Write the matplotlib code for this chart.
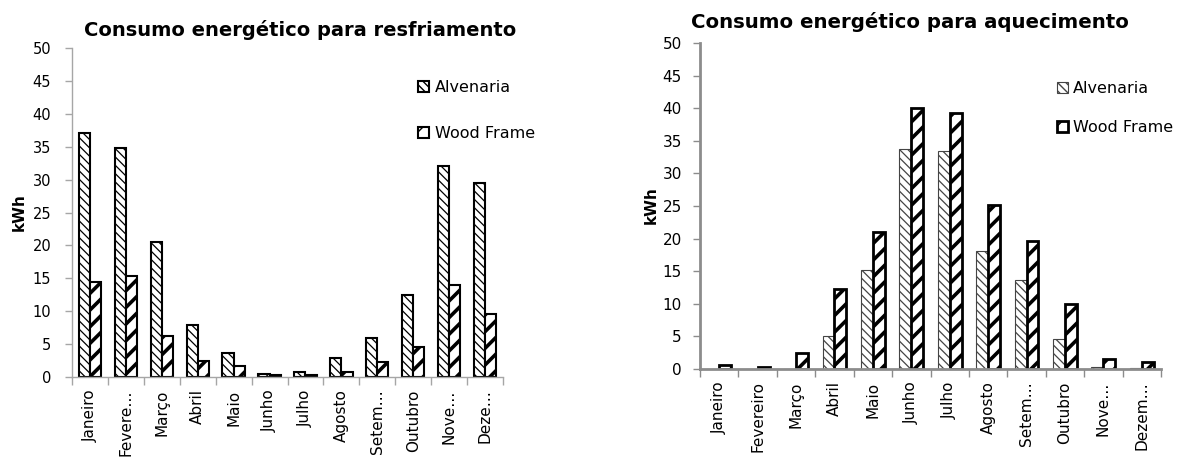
import matplotlib
matplotlib.use('Agg')
import matplotlib.pyplot as plt
import numpy as np

# meses e consumo mensal (kWh)
rotulos_resf = ['Janeiro', 'Fevere…', 'Março', 'Abril', 'Maio', 'Junho', 'Julho',
                'Agosto', 'Setem…', 'Outubro', 'Nove…', 'Deze…']
rotulos_aquec = ['Janeiro', 'Fevereiro', 'Março', 'Abril', 'Maio', 'Junho', 'Julho',
                 'Agosto', 'Setem…', 'Outubro', 'Nove…', 'Dezem…']

resf_alvenaria = [37.1, 34.8, 20.5, 7.9, 3.7, 0.4, 0.75, 2.9, 6.0, 12.5, 32.0, 29.5]
resf_wood = [14.4, 15.4, 6.2, 2.5, 1.6, 0.25, 0.25, 0.75, 2.3, 4.5, 14.0, 9.5]

aquec_alvenaria = [0.0, 0.0, 0.0, 5.05, 15.2, 33.8, 33.5, 18.1, 13.7, 4.6, 0.25, 0.2]
aquec_wood = [0.6, 0.3, 2.5, 12.2, 21.0, 40.0, 39.3, 25.1, 19.6, 10.0, 1.5, 1.1]

W, H = 1181, 459
fig = plt.figure(figsize=(W / 100, H / 100), dpi=100)
plt.rcParams['font.family'] = 'DejaVu Sans'


def box(x0, y0, x1, y1):
    # pixel box (top-left origin) -> figure fraction
    return [x0 / W, 1 - y1 / H, (x1 - x0) / W, (y1 - y0) / H]


def barras(ax, alv, wood, rot, alv_edge, alv_lw, wood_lw, spine_c, spine_lw,
           ypad, fs):
    x = np.arange(len(rot))
    w = 0.31
    with plt.rc_context({'hatch.linewidth': 0.9, 'hatch.color': 'black'}):
        b1 = ax.bar(x - w / 2, alv, w, color='white', edgecolor=alv_edge,
                    linewidth=alv_lw, hatch='\\\\\\\\', label='Alvenaria')
    with plt.rc_context({'hatch.linewidth': 2.6, 'hatch.color': 'black'}):
        b2 = ax.bar(x + w / 2, wood, w, color='white', edgecolor='black',
                    linewidth=wood_lw, hatch='//', label='Wood Frame')
    for p in b1:
        if hasattr(p, 'set_hatch_linewidth'):
            p.set_hatch_linewidth(0.9)
    for p in b2:
        if hasattr(p, 'set_hatch_linewidth'):
            p.set_hatch_linewidth(2.6)

    ax.set_xlim(-0.5, len(rot) - 0.5)
    ax.set_ylim(0, 50)
    ax.set_yticks(range(0, 51, 5))
    ax.set_xticks(x)
    ax.set_xticklabels(rot, rotation=90, fontsize=11)
    ax.set_xticks(np.arange(-0.5, len(rot)), minor=True)
    ax.tick_params(axis='x', which='major', length=0, pad=9)
    ax.tick_params(axis='x', which='minor', length=6, width=1, color=spine_c)
    ax.tick_params(axis='y', length=5, width=1, color=spine_c, labelsize=fs, pad=ypad)
    for s in ['top', 'right']:
        ax.spines[s].set_visible(False)
    for s in ['left', 'bottom']:
        ax.spines[s].set_color(spine_c)
        ax.spines[s].set_linewidth(spine_lw)
    return b1, b2


# resfriamento
ax1 = fig.add_axes(box(72, 48, 503, 377))
h1 = barras(ax1, resf_alvenaria, resf_wood, rotulos_resf, 'black', 1.5, 1.5,
            '#a6a6a6', 1.0, 10, 10.5)
fig.text(300 / W, 1 - 30 / H, 'Consumo energético para resfriamento',
         ha='center', va='center', fontsize=14, fontweight='bold')
fig.text(19 / W, 1 - 212 / H, 'kWh', rotation=90, ha='center', va='center',
         fontsize=11, fontweight='bold')
ax1.legend(handles=list(h1), loc='upper left', bbox_to_anchor=(410 / W, 1 - 72 / H),
           bbox_transform=fig.transFigure, frameon=False, fontsize=11.5,
           borderpad=0, handlelength=0.7, handleheight=0.7, handletextpad=0.35,
           labelspacing=1.95)

# aquecimento
ax2 = fig.add_axes(box(700, 43, 1161, 369))
h2 = barras(ax2, aquec_alvenaria, aquec_wood, rotulos_aquec, '#444444', 0.8, 2.0,
            '#8c8c8c', 2.0, 8, 11)
fig.text(910 / W, 1 - 22 / H, 'Consumo energético para aquecimento',
         ha='center', va='center', fontsize=14.2, fontweight='bold')
fig.text(651 / W, 1 - 205 / H, 'kWh', rotation=90, ha='center', va='center',
         fontsize=11, fontweight='bold')
ax2.legend(handles=list(h2), loc='upper left', bbox_to_anchor=(1049 / W, 1 - 73 / H),
           bbox_transform=fig.transFigure, frameon=False, fontsize=11.5,
           borderpad=0, handlelength=0.7, handleheight=0.7, handletextpad=0.3,
           labelspacing=1.5)

fig.savefig('out.png', dpi=100)
